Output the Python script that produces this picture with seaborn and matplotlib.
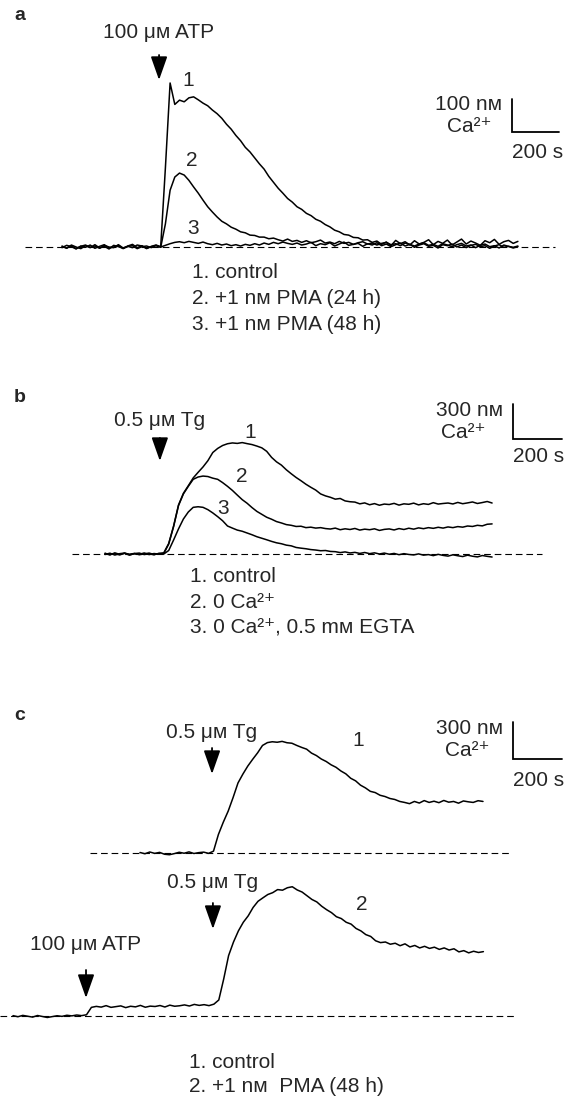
"""
Fura-2 [Ca2+]i traces: ATP / thapsigargin responses (panels a, b, c)
"""

import numpy as np
import matplotlib.pyplot as plt
import matplotlib.transforms as mtransforms
import seaborn as sns

sns.set_theme(style="white")
plt.rcParams["font.family"] = ["Liberation Sans", "DejaVu Sans"]

W, H = 576, 1097
DT = 20  # s between samples
FS = 15

# ---- panel a: 100 uM ATP, [Ca2+] in nM, one value every 20 s ----
a_control = [3, -4, 6, 0, -5, 4, -2, 7, -3, 2, -6, 5, 1, -4, 3, 8, -2, 4, -5, 2, 6, 1,
             240, 497, 432, 445, 440, 452, 455, 446, 436, 428, 415, 404, 390, 372, 357,
             338, 322, 302, 288, 270, 252, 236, 214, 196, 178, 163, 147, 136, 122, 114,
             102, 95, 84, 78, 68, 61, 51, 46, 38, 36, 29, 28, 21, 22, 14,
             18, 8, 15, 4, 20, 10, 16, 6, 19, 9, 14, 22, 7, 17, 11, 21, 6, 15, 24, 9,
             18, 12, 5, 19, 13, 23, 8, 16, 20, 11, 17]
a_pma24 = [-2, 5, 1, -6, 3, -1, 6, -4, 2, 7, -3, 0, 5, -5, 2, -2, 6, 3, -4, 1, 4, -1,
           70, 172, 212, 224, 218, 202, 182, 163, 142, 122, 106, 91, 78, 70, 60, 54,
           46, 43, 36, 35, 30, 30, 25, 27,
           22, 18, 24, 17, 20, 14, 19, 13, 16, 21, 12, 15, 10, 17, 11, 14, 8, 13, 16, 9,
           12, 6, 11, 14, 7, 10, 4, 12, 8, 3, 9, 13, 5, 8, 2, 10, 6, 1, 7, 11,
           3, 6, -2, 5, 9, 1, 4, -3, 6, 2, -1, 3]
a_pma48 = [1, -3, 4, -5, 2, 6, -1, 3, -4, 5, 0, -2, 7, -3, 2, 4, -5, 1, 3, -2, 5, 0,
           5, 10, 14, 16, 13, 17, 14, 11, 15, 10, 7, 11, 6, 9, 4, 7, 3, 8, 5, 10, 6,
           12, 8, 14, 10, 15, 11, 8,
           12, 6, 9, 14, 4, 10, 7, 13, 3, 9, 15, 5, 8, 11, 2, 10, 6, 13, 4, 9,
           1, 7, 12, 3, 8, -1, 6, 10, 2, 5, -3, 7, 4, 9, 0, 6, -2, 5, 8, 1,
           4, -4, 3, 7, -1, 2, -3, 1]
a_labels = ["1. control", "2. +1 n\u1d0d PMA (24 h)", "3. +1 n\u1d0d PMA (48 h)"]

# ---- panel b: 0.5 uM thapsigargin ----
b_control = [5, -8, 10, -3, 6, -10, 4, 8, -5, 2, -7, 6,
             10, 90, 240, 420, 520, 585, 652, 700, 746, 800, 870, 905, 930, 945, 952,
             948, 955, 946, 938, 925, 910, 880, 828, 790, 762, 722, 688, 656, 628, 598,
             572, 548, 515, 498, 486, 470, 476, 455, 448,
             445, 430, 438, 422, 432, 418, 428, 424, 434, 419, 430, 426, 436, 421, 431,
             425, 440, 428, 433, 437, 429, 442, 431, 438, 446, 433, 441, 450, 437]
b_zero_ca = [-4, 7, -9, 3, 8, -6, 2, -3, 9, -5, 4, -1,
             5, 85, 235, 415, 515, 580, 640, 660, 668, 664, 650, 640, 612, 580, 545,
             505, 466, 435, 398, 365, 340, 315, 298, 278, 266, 252, 246, 236, 238, 226,
             230, 222, 226,
             218, 214, 222, 208, 216, 210, 219, 205, 213, 208, 216, 202, 211, 215, 206,
             218, 210, 221, 213, 224, 217, 226, 220, 229, 222, 232, 226, 235, 230, 240,
             236, 246, 241, 255, 258]
b_egta = [6, -5, 3, -8, 7, -2, 5, -6, 1, 8, -4, 3,
          0, 30, 120, 215, 300, 360, 400, 405, 400, 380, 352, 320, 285, 240, 222, 205,
          195, 180, 165, 148, 135, 122, 108, 96, 88, 76, 70, 56, 50, 45, 38, 34, 28, 30,
          22,
          20, 12, 18, 9, 14, 5, 13, 3, 10, 0, 8, -2, 5, -6, 3, -4, -8, 1, -10, -5,
          -14, -3, -12, -18, -7, -15, -22, -10, -19, -25, -13, -20, -26]
b_labels = ["1. control", "2. 0 Ca\u00b2\u207a", "3. 0 Ca\u00b2\u207a, 0.5 m\u1d0d EGTA"]

# ---- panel c: Tg alone (1) and ATP then Tg after PMA (2) ----
c_control = [4, -6, 8, -3, 5, -10, -14, -5, 6, -2, 9, -4, 3, 7, -3,
             15, 150, 250, 340, 450, 568, 640, 705, 760, 812, 872, 895, 902, 898, 905,
             894, 890, 872, 856, 842, 810, 790, 762, 742, 715, 695, 665, 642, 606, 585,
             550, 528, 500, 490, 468, 458, 442, 434, 418, 410,
             400, 418, 405, 425, 410, 420, 408, 426, 412, 418, 404, 422, 415, 410, 424,
             418]
c_pma48 = [3, -6, 5, -2, -9, 4, -4, -12, -5, 2, -3, 6, 1, 8, 3, 10,
           70, 78, 72, 84, 70, 76, 82, 68, 79, 74, 86, 71, 80, 77, 85, 73, 88, 79, 83,
           90, 81, 94, 86, 92, 84, 96,
           130, 300, 490, 600, 690, 760, 812, 880, 930, 958, 985, 1000, 1025, 1020,
           1040, 1048, 1022, 1005, 975, 945, 925, 890, 862, 838, 805, 790, 760, 745,
           710, 690, 660, 645, 610, 595,
           600, 582, 590, 570, 585, 560, 572, 552, 565, 548, 558, 540, 552, 535, 545,
           520, 530, 512, 525, 515, 522]
c_labels = ["1. control", "2. +1 n\u1d0d  PMA (48 h)"]

fig = plt.figure(figsize=(W / 100, H / 100), dpi=100)


def trace_axes(x0, base, s_px, nm_px, top, bottom):
    # full-width invisible axes; x in s, y in nM
    ax = fig.add_axes([0, 1 - bottom / H, 1, (bottom - top) / H])
    ax.set_xlim(-x0 * s_px, (W - x0) * s_px)
    ax.set_ylim((base - bottom) * nm_px, (base - top) * nm_px)
    ax.set_axis_off()
    return ax


def draw_traces(ax, series):
    for vals in series:
        t = np.arange(len(vals)) * DT
        sns.lineplot(x=t, y=vals, ax=ax, color="black", linewidth=1.1,
                     estimator=None, legend=False)


def baseline(ax, x_from, x_to):
    ax.axhline(0, xmin=x_from / W, xmax=x_to / W, color="black", lw=0.8,
               linestyle=(0, (6, 3.5)))


def put(x, y, s, ha="left", size=FS, **kw):
    fig.text(x / W, 1 - y / H, s, ha=ha, va="center", fontsize=size, **kw)


def scale_bar(ax, px, py, conc, secs, conc_txt, ca_right, ty):
    ct, cc = ax.transData.inverted().transform((px, H - py))
    ax.plot([ct, ct, ct + secs], [cc + conc, cc, cc], color="black", lw=1.3,
            solid_joinstyle="miter")
    bar_top = H - ax.transData.transform((ct, cc + conc))[1]
    put(px - 10, bar_top + 6, conc_txt, ha="right")
    put(ca_right, bar_top + 28, "Ca\u00b2\u207a", ha="right")
    put(px, ty, f"{secs} s")


def stimulus(ax, t, label, y_txt, y_tail, y_tip):
    blend = mtransforms.blended_transform_factory(ax.transData, fig.transFigure)
    ax.text(t, 1 - y_txt / H, label, transform=blend, ha="center", va="center",
            fontsize=FS)
    ax.annotate("", xy=(t, 1 - y_tip / H), xycoords=blend,
                xytext=(t, 1 - y_tail / H), textcoords=blend,
                arrowprops=dict(arrowstyle="-|>,head_length=0.85,head_width=0.3",
                                color="black", lw=1.3, shrinkA=0, shrinkB=0,
                                mutation_scale=17))


def legend_lines(x, y0, labels, step=25):
    for i, s in enumerate(labels):
        put(x, y0 + i * step, s)


# panel a
ax_a = trace_axes(62, 247, 200 / 47, 100 / 33, 0, 340)
baseline(ax_a, 25, 555)
draw_traces(ax_a, [a_control, a_pma24, a_pma48])
stimulus(ax_a, 413, "100 \u03bc\u1d0d ATP", 33, 55, 80)
scale_bar(ax_a, 512, 132, 100, 200, "100 n\u1d0d", 492, 153)
put(188, 80, "1", ha="center")
put(192, 161, "2", ha="center")
put(193, 229, "3", ha="center")
legend_lines(192, 273, a_labels, step=26)
put(14, 16, "a", size=14, fontweight="bold")

# panel b
ax_b = trace_axes(105, 554, 200 / 49, 300 / 35, 340, 650)
baseline(ax_b, 72, 542)
draw_traces(ax_b, [b_control, b_zero_ca, b_egta])
stimulus(ax_b, 224, "0.5 \u03bc\u1d0d Tg", 421, 438, 461)
scale_bar(ax_b, 513, 439, 300, 200, "300 n\u1d0d", 485, 457)
put(250, 432, "1", ha="center")
put(242, 476, "2", ha="center")
put(223, 509, "3", ha="center")
legend_lines(190, 577, b_labels)
put(14, 397, "b", size=14, fontweight="bold")

# panel c
ax_c1 = trace_axes(140, 853, 200 / 49, 300 / 37, 650, 870)
baseline(ax_c1, 90, 512)
draw_traces(ax_c1, [c_control])
stimulus(ax_c1, 294, "0.5 \u03bc\u1d0d Tg", 732, 748, 774)
scale_bar(ax_c1, 513, 759, 300, 200, "300 n\u1d0d", 490, 781)
put(358, 740, "1", ha="center")

ax_c2 = trace_axes(13, 1016, 200 / 49, 300 / 37, 870, 1097)
baseline(ax_c2, 0, 517)
draw_traces(ax_c2, [c_pma48])
stimulus(ax_c2, 816, "0.5 \u03bc\u1d0d Tg", 883, 903, 929)
stimulus(ax_c2, 298, "100 \u03bc\u1d0d ATP", 945, 970, 998)
put(362, 905, "2", ha="center")
legend_lines(189, 1062, c_labels)
put(14, 715, "c", size=14, fontweight="bold")

fig.savefig("out.png", dpi=100)
